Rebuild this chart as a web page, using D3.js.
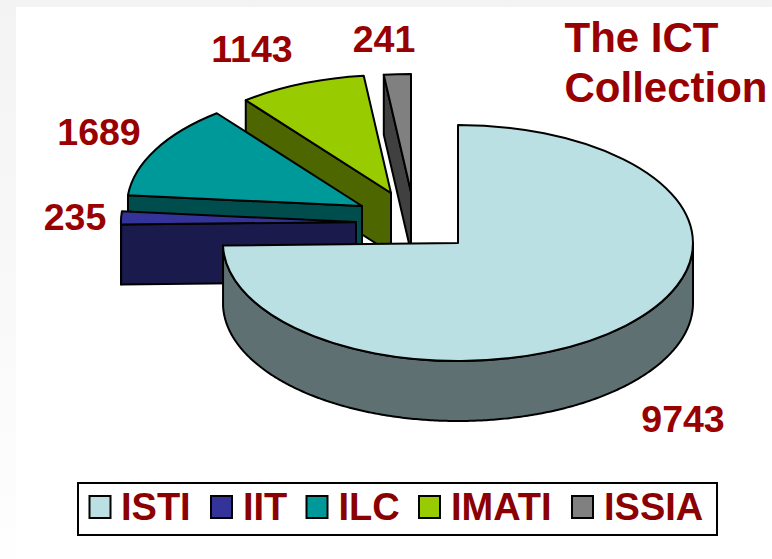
<!DOCTYPE html>
<html><head><meta charset="utf-8">
<script src="https://cdn.jsdelivr.net/npm/d3@7"></script>
<style>html,body{margin:0;padding:0;background:#fff}svg{display:block}text{font-family:"Liberation Sans",Arial,sans-serif;font-weight:700;fill:#990000}</style>
</head><body><svg id="c" width="772" height="559"></svg>
<script>
const categories=["ISTI","IIT","ILC","IMATI","ISSIA"];
const values=[9743,235,1689,1143,241];
const topColors=["#BBE0E3","#333399","#009999","#99CC00","#808080"];
const sideColors=["#5E7072","#1A1A4D","#004D4D","#4D6600","#404040"];
const titleLines=["The ICT","Collection"];

const W=772,H=559,rx=235,ry=118,depth=60;
const apexes=[[458,243],[356,222],[362,206],[391,193],[411,192]];
const labelPos=[[683,432],[75,230],[99,145],[252,62],[384,52]];
const svg=d3.select("#c");
const defs=svg.append("defs");
const grad=defs.append("linearGradient").attr("id","bg").attr("x1",0).attr("y1",0).attr("x2",0).attr("y2",1);
grad.append("stop").attr("offset",0).attr("stop-color","#f3f3f3");
grad.append("stop").attr("offset",1).attr("stop-color","#fefefe");
svg.append("rect").attr("width",W).attr("height",H).attr("fill","url(#bg)");
svg.append("rect").attr("x",16).attr("y",7).attr("width",W-16).attr("height",H-7).attr("fill","#fff");

const pie=d3.pie().sort(null).value(d=>d)(values);
const arc=d3.arc().innerRadius(0).outerRadius(1);
const pt=(a,[cx,cy],dy=0)=>[cx+rx*Math.sin(a),cy-ry*Math.cos(a)+dy];
const line=d3.line();
const stroke="#000",sw=2;
const g=svg.append("g");
const face=(pts,i)=>g.append("path").attr("d",line(pts)+"Z").attr("fill",sideColors[i])
  .attr("stroke",stroke).attr("stroke-width",sw).attr("stroke-linejoin","round");
// painted back to front
d3.range(pie.length-1,-1,-1).forEach(i=>{
  const p=pie[i],c=apexes[i],a0=p.startAngle,a1=p.endAngle;
  // the cut plane on the slice's left side shows for every slice but the big one
  if(i!==0) face([pt(a0,c),pt(a0,c,depth),[c[0],c[1]+depth],[c[0],c[1]]],i);
  // outer wall on the front half of the ellipse
  const lo=Math.max(a0,Math.PI/2),hi=Math.min(a1,Math.PI*1.5);
  if(hi>lo){
    const angs=d3.range(lo,hi,0.01).concat([hi]);
    face(angs.map(a=>pt(a,c)).concat(angs.slice().reverse().map(a=>pt(a,c,depth))),i);
  }
  g.append("path")
    .attr("transform",`translate(${c[0]},${c[1]}) scale(${rx},${ry})`)
    .attr("d",arc({startAngle:a0,endAngle:a1}))
    .attr("fill",topColors[i]).attr("stroke",stroke).attr("stroke-width",sw)
    .attr("vector-effect","non-scaling-stroke").attr("stroke-linejoin","round");
});
// value labels
svg.selectAll("text.v").data(values).join("text").attr("class","v")
  .attr("x",(d,i)=>labelPos[i][0]).attr("y",(d,i)=>labelPos[i][1])
  .attr("text-anchor","middle").attr("font-size",37.5).text(d=>d);
// title
svg.selectAll("text.t").data(titleLines).join("text").attr("class","t")
  .attr("x",564.5).attr("y",(d,i)=>52+i*50).attr("font-size",42).text(d=>d);
// legend
const lg=svg.append("g");
lg.append("rect").attr("x",78).attr("y",483).attr("width",639).attr("height",52).attr("fill","#fff").attr("stroke","#000").attr("stroke-width",2);
const swX=[89.5,211,306.5,419,572],txtX=[121,243,338.5,451,604];
categories.forEach((n,i)=>{
  lg.append("rect").attr("x",swX[i]).attr("y",496).attr("width",21).attr("height",22).attr("fill",topColors[i]).attr("stroke","#000").attr("stroke-width",2);
  lg.append("text").attr("x",txtX[i]).attr("y",520).attr("font-size",38).style("fill","#8B0000").text(n);
});
</script></body></html>
